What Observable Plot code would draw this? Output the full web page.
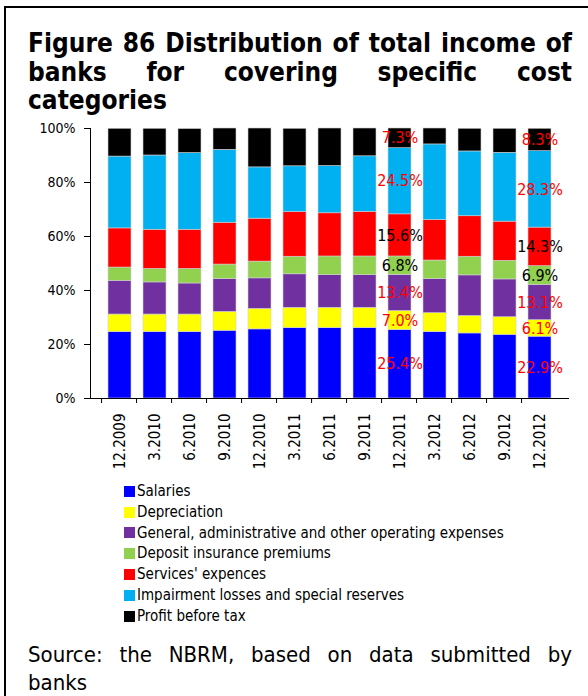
<!DOCTYPE html>
<html>
<head>
<meta charset="utf-8">
<script src="https://cdn.jsdelivr.net/npm/d3@7"></script>
<script src="https://cdn.jsdelivr.net/npm/@observablehq/plot@0.6"></script>
<style>
  html, body { margin: 0; padding: 0; background: #fff; }
  #page { position: relative; width: 588px; height: 696px; overflow: hidden; font-family: "DejaVu Sans Condensed", "DejaVu Sans", sans-serif; background: #fff; }
  #frame { position: absolute; left: 4px; top: 6px; right: -10px; bottom: -10px; border-top: 2px solid #000; border-left: 2px solid #000; z-index: 5; pointer-events: none; }
  #title { position: absolute; left: 28px; width: 544px; top: 29px; font-weight: bold; font-size: 26px; line-height: 28.5px; color: #000; }
  #title .j { text-align: justify; text-align-last: justify; }
  #chart { position: absolute; left: 0; top: 115px; }
  #legend { position: absolute; left: 124px; top: 481px; font-size: 15px; line-height: 20.8px; color: #000; }
  #legend .row { display: flex; align-items: center; height: 20.8px; }
  #legend .sw { width: 11px; height: 11px; margin-right: 2px; }
  #caption { position: absolute; left: 28px; width: 544px; top: 641px; font-size: 22px; line-height: 28px; color: #000; }
  #caption .j { text-align: justify; text-align-last: justify; }
</style>
</head>
<body>
<div id="page">
  <div id="frame"></div>
  <div id="title"></div>
  <div id="chart"></div>
  <div id="legend"></div>
  <div id="caption"></div>
</div>
<script>
const periods = ["12.2009","3.2010","6.2010","9.2010","12.2010","3.2011","6.2011","9.2011","12.2011","3.2012","6.2012","9.2012","12.2012"];
const seriesNames = ["Salaries","Depreciation","General, administrative and other operating expenses","Deposit insurance premiums","Services' expences","Impairment losses and special reserves","Profit before tax"];
const seriesColors = ["#0000FF","#FFFF00","#7030A0","#92D050","#FF0000","#00B0F0","#000000"];

const salaries     = [24.6,24.6,24.6,25.1,25.6,26.1,26.1,26.1,25.4,24.6,24.1,23.6,22.9];
const depreciation = [6.5, 6.5, 6.5, 7.0, 7.6, 7.5, 7.5, 7.5, 7.0, 7.0, 6.5, 6.5, 6.1];
const general      = [12.5,11.9,11.5,12.1,11.3,12.4,12.1,12.1,13.4,12.6,15.0,14.0,13.1];
const deposit      = [4.9, 5.0, 5.4, 5.4, 6.2, 6.5, 6.9, 6.9, 6.8, 6.9, 6.9, 6.9, 6.9];
const services     = [14.5,14.5,14.5,15.5,15.9,16.5,16.0,16.5,15.6,15.0,15.0,14.5,14.3];
const impairment   = [26.6,27.5,28.4,27.0,19.0,17.0,17.5,20.6,24.5,28.0,24.0,25.5,28.3];
const profit       = [10.3,9.9, 8.9, 7.9, 14.4,13.9,13.9,10.3,7.3, 5.9, 8.4, 8.9, 8.3];
const seriesValues = [salaries, depreciation, general, deposit, services, impairment, profit];

const labelledPeriods = ["12.2011","12.2012"];
const blackLabelSeries = ["Deposit insurance premiums","Services' expences"];
const yTicks = [0, 20, 40, 60, 80, 100];

const titleLines = ["Figure 86 Distribution of total income of", "banks for covering specific cost", "categories"];
const captionLines = ["Source: the NBRM, based on data submitted by", "banks"];

// table for the library
const data = [];
seriesNames.forEach((s, si) => {
  periods.forEach((p, pi) => {
    data.push({period: p, series: s, value: seriesValues[si][pi]});
  });
});

const W = 588, H = 365, mL = 90, mR = 19, mT = 13, mB = 82;
const step = (W - mL - mR) / periods.length;
const fmt = d => d.value.toFixed(1) + "%";
const isLab = d => labelledPeriods.includes(d.period);

const chart = Plot.plot({
  width: W, height: H,
  marginLeft: mL, marginRight: mR, marginTop: mT, marginBottom: mB,
  style: {fontFamily: '"DejaVu Sans Condensed", "DejaVu Sans", sans-serif', fontSize: "14px", color: "#000", background: "transparent", overflow: "visible"},
  x: {domain: periods, padding: 0.34, label: null},
  y: {domain: [0, 100], label: null},
  color: {domain: seriesNames, range: seriesColors},
  marks: [
    Plot.barY(data, {x: "period", y: "value", fill: "series", z: "series", order: seriesNames, stroke: "#d0d0d0", strokeWidth: 0.6}),
    Plot.text(data, Plot.stackY({x: "period", y: "value", z: "series", order: seriesNames,
      text: d => isLab(d) && !blackLabelSeries.includes(d.series) ? fmt(d) : null,
      fill: "#FF0000", fontSize: 16, textAnchor: "middle"})),
    Plot.text(data, Plot.stackY({x: "period", y: "value", z: "series", order: seriesNames,
      text: d => isLab(d) && blackLabelSeries.includes(d.series) ? fmt(d) : null,
      fill: "#000", fontSize: 16, textAnchor: "middle"})),
    Plot.axisY({ticks: yTicks, tickFormat: d => d + "%", tickSize: 6, tickPadding: 9, fontSize: 14}),
    Plot.axisX({tickSize: 5, text: null, dx: -step / 2}),
    Plot.axisX({tickSize: 0, tickPadding: 15, tickRotate: -90, fontSize: 15}),
    Plot.ruleY([0], {stroke: "#000"}),
    Plot.frame({anchor: "left", stroke: "#000"})
  ]
});
document.getElementById("chart").appendChild(chart);

// title
const title = document.getElementById("title");
titleLines.forEach((t, i) => {
  const d = document.createElement("div");
  d.textContent = t;
  if (i < titleLines.length - 1) d.className = "j";
  title.appendChild(d);
});
const cap = document.getElementById("caption");
captionLines.forEach((t, i) => {
  const d = document.createElement("div");
  d.textContent = t;
  if (i < captionLines.length - 1) d.className = "j";
  cap.appendChild(d);
});

// legend
const legend = document.getElementById("legend");
seriesNames.forEach((s, i) => {
  const row = document.createElement("div");
  row.className = "row";
  const sw = document.createElement("span");
  sw.className = "sw";
  sw.style.background = seriesColors[i];
  const tx = document.createElement("span");
  tx.textContent = s;
  row.appendChild(sw); row.appendChild(tx);
  legend.appendChild(row);
});
</script>
</body>
</html>
